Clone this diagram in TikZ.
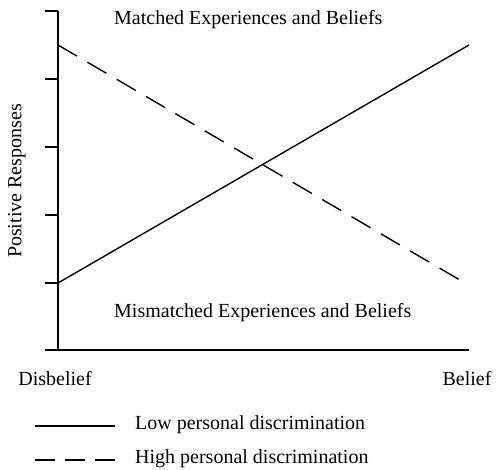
\documentclass[tikz,border=0pt]{standalone}
\usepackage{fontspec}
\setmainfont{Liberation Serif}
\begin{document}
\begin{tikzpicture}[x=1pt,y=-1pt,
  axis/.style={line width=1.1pt},
  dataline/.style={line width=1.4pt},
  dashline/.style={line width=1.4pt,dash pattern=on 22pt off 12pt},
  lbl/.style={font=\fontsize{20}{22}\selectfont,inner sep=0pt}]
\useasboundingbox (0,0) rectangle (497,470);
% axes
\coordinate (ytop) at (58,11);
\coordinate (orig) at (58,350);
\coordinate (xend) at (469,350);
\coordinate (xstart) at (45,350);
\draw[axis] (ytop) -- (orig);
\draw[axis] (xstart) -- (xend);
\foreach \y in {11,79,147,215,283} {
  \coordinate (t\y) at (45,\y);
  \coordinate (u\y) at (58,\y);
  \draw[axis] (t\y) -- (u\y);
}
% data
\coordinate (s1) at (58,283);
\coordinate (s2) at (469,45);
\coordinate (d1) at (58,45);
\coordinate (d2) at (465,283);
\draw[dataline] (s1) -- (s2);
\draw[dashline] (d1) -- (d2);
% labels
\node[lbl,anchor=west] (matched) at (114,20) {Matched Experiences and Beliefs};
\node[lbl,anchor=west] (mismatched) at (114,313) {Mismatched Experiences and Beliefs};
\node[lbl] (disb) at (55,379) {Disbelief};
\node[lbl] (bel) at (467,379) {Belief};
\node[lbl,rotate=90] (pos) at (17,181) {Positive Responses};
% legend
\coordinate (l1a) at (35,426);
\coordinate (l1b) at (115,426);
\coordinate (l2a) at (35,460);
\coordinate (l2b) at (115,460);
\draw[dataline] (l1a) -- (l1b);
\draw[dataline,dash pattern=on 20pt off 10pt] (l2a) -- (l2b);
\node[lbl,anchor=west] (low) at (135,425) {Low personal discrimination};
\node[lbl,anchor=west] (high) at (135,459) {High personal discrimination};
\end{tikzpicture}
\end{document}
